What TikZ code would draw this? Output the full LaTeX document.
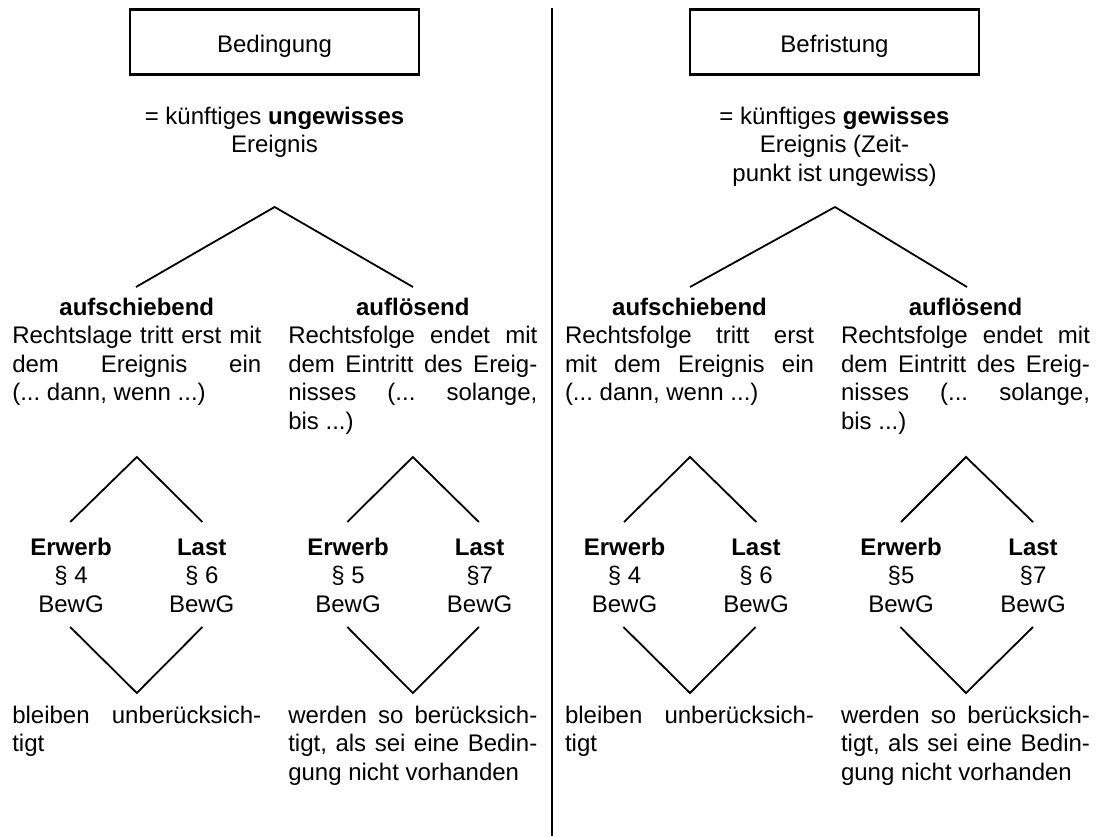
\documentclass[tikz,border=0pt]{standalone}
\usepackage{fontspec}
\setmainfont{Liberation Sans}
\newcommand\jline[1]{\makebox[249pt][s]{#1}}
\newcommand\colhead[1]{\makebox[249pt][c]{\bfseries #1}}
\begin{document}
\frenchspacing
\begin{tikzpicture}[x=1pt,y=-1pt,
  every node/.style={inner sep=0pt, outer sep=0pt, font=\fontsize{24}{28.6}\selectfont\frenchspacing},
  titlebox/.style={draw, line width=2.2pt, minimum width=289.5pt, minimum height=65pt, text height=22pt, text depth=2pt},
  para/.style={align=left, anchor=base west},
  mid/.style={align=center, anchor=base},
  branch/.style={line width=1.8pt},
  divider/.style={line width=2.5pt}]
\useasboundingbox[fill=white] (0,0) rectangle (1103,836);
% note: for multi-line nodes the base anchor is the baseline of the LAST line

% divider
\coordinate (dtop) at (552,8);
\coordinate (dbot) at (552,836);
\draw[divider] (dtop) -- (dbot);

% ---------------- left half ----------------
\node[titlebox] (lbox) at (274.5,42) {Bedingung};
\node[mid] (ldef) at (274.5,152.6) {= künftiges \textbf{ungewisses}\\Ereignis};

\coordinate (LA) at (274.6,207);
\coordinate (LA1) at (136,287);
\coordinate (LA2) at (413,287);
\draw[branch] (LA1) -- (LA) -- (LA2);

\node[para] (lp1) at (12.3,429.4) {\colhead{aufschiebend}\\
  \jline{Rechtslage tritt erst mit}\\
  \jline{dem Ereignis ein}\\
  (... dann, wenn ...)\\ \strut};
\node[para] (lp2) at (288.3,429.4) {\colhead{auflösend}\\
  \jline{Rechtsfolge endet mit}\\
  \jline{dem Eintritt des Ereig-}\\
  \jline{nisses (... solange,}\\
  bis ...)};

\coordinate (LB) at (136.8,457);
\coordinate (LB1) at (70.2,522);
\coordinate (LB2) at (202.4,522);
\draw[branch] (LB1) -- (LB) -- (LB2);
\coordinate (LC) at (412.8,457);
\coordinate (LC1) at (347.3,522);
\coordinate (LC2) at (478.8,522);
\draw[branch] (LC1) -- (LC) -- (LC2);

\node[mid] (l1) at (71,612.2) {\textbf{Erwerb}\\§ 4\\BewG};
\node[mid] (l2) at (201.7,612.2) {\textbf{Last}\\§ 6\\BewG};
\node[mid] (l3) at (348,612.2) {\textbf{Erwerb}\\§ 5\\BewG};
\node[mid] (l4) at (479.6,612.2) {\textbf{Last}\\§7\\BewG};

\coordinate (LD1) at (70.2,627);
\coordinate (LD) at (136.8,693);
\coordinate (LD2) at (202.4,627);
\draw[branch] (LD1) -- (LD) -- (LD2);
\coordinate (LE1) at (347.3,627);
\coordinate (LE) at (412.8,693);
\coordinate (LE2) at (478.8,627);
\draw[branch] (LE1) -- (LE) -- (LE2);

\node[para] (lr1) at (12.3,751.6) {\jline{bleiben unberücksich-}\\tigt};
\node[para] (lr2) at (288.3,780.2) {\jline{werden so berücksich-}\\
  \jline{tigt, als sei eine Bedin-}\\
  gung nicht vorhanden};

% ---------------- right half ----------------
\node[titlebox] (rbox) at (834.5,42) {Befristung};
\node[mid] (rdef) at (834.5,181.2) {= künftiges \textbf{gewisses}\\Ereignis (Zeit-\\punkt ist ungewiss)};

\coordinate (RA) at (835,207);
\coordinate (RA1) at (690,287);
\coordinate (RA2) at (967,287);
\draw[branch] (RA1) -- (RA) -- (RA2);

\node[para] (rp1) at (565,429.4) {\colhead{aufschiebend}\\
  \jline{Rechtsfolge tritt erst}\\
  \jline{mit dem Ereignis ein}\\
  (... dann, wenn ...)\\ \strut};
\node[para] (rp2) at (841,429.4) {\colhead{auflösend}\\
  \jline{Rechtsfolge endet mit}\\
  \jline{dem Eintritt des Ereig-}\\
  \jline{nisses (... solange,}\\
  bis ...)};

\coordinate (RB) at (690,457);
\coordinate (RB1) at (624,522);
\coordinate (RB2) at (756.3,522);
\draw[branch] (RB1) -- (RB) -- (RB2);
\coordinate (RC) at (966,457);
\coordinate (RC1) at (901,522);
\coordinate (RC2) at (1033,522);
\draw[branch] (RC1) -- (RC) -- (RC2);

\node[mid] (r1) at (624.5,612.2) {\textbf{Erwerb}\\§ 4\\BewG};
\node[mid] (r2) at (756,612.2) {\textbf{Last}\\§ 6\\BewG};
\node[mid] (r3) at (901,612.2) {\textbf{Erwerb}\\§5\\BewG};
\node[mid] (r4) at (1033,612.2) {\textbf{Last}\\§7\\BewG};

\coordinate (RD1) at (623.4,627);
\coordinate (RD) at (690,693);
\coordinate (RD2) at (755.6,627);
\draw[branch] (RD1) -- (RD) -- (RD2);
\coordinate (RE1) at (900.3,627);
\coordinate (RE) at (966,693);
\coordinate (RE2) at (1033,627);
\draw[branch] (RE1) -- (RE) -- (RE2);

\node[para] (rr1) at (565,751.6) {\jline{bleiben unberücksich-}\\tigt};
\node[para] (rr2) at (841,780.2) {\jline{werden so berücksich-}\\
  \jline{tigt, als sei eine Bedin-}\\
  gung nicht vorhanden};
\end{tikzpicture}
\end{document}
